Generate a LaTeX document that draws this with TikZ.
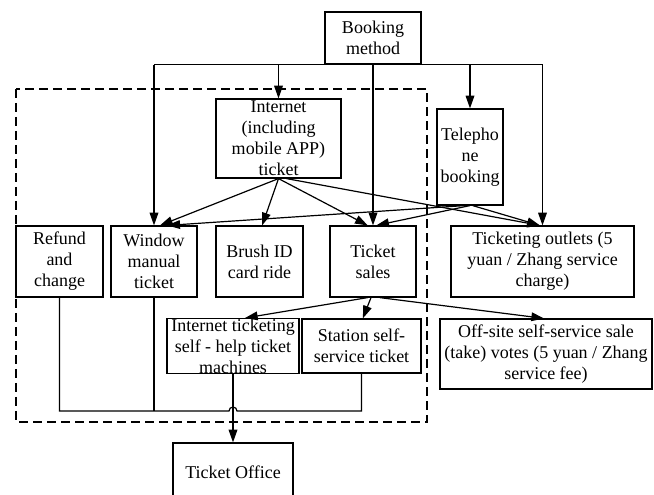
\documentclass[tikz,border=0pt]{standalone}
\usepackage{fontspec}
\setmainfont{Liberation Serif}
\usetikzlibrary{arrows.meta}
\begin{document}
\begin{tikzpicture}[x=0.75pt,y=-0.75pt,
  box/.style 2 args={draw, line width=0.9pt, align=center, inner sep=0pt,
    minimum width=#1*0.75pt, minimum height=#2*0.75pt,
    font=\fontsize{13.5}{15.8}\selectfont},
  conn/.style={line width=0.9pt},
  arr/.style={conn, -{Triangle[length=9.5pt,width=6.5pt]}},
  frame/.style={line width=0.9pt, dash pattern=on 7pt off 3.5pt}]
\useasboundingbox (0,0) rectangle (654,495);

\node[box={96}{52}] (book) at (373,38) {Booking\\method};
\node[box={125}{79}] (inet) at (278.5,138.5) {Internet\\(including\\mobile APP)\\ticket};
\node[box={66}{96}] (tel) at (470,157) {Telepho\\ne\\booking};
\node[box={87}{71}] (refund) at (59.5,261.5) {Refund\\and\\change};
\node[box={86}{71}] (win) at (154,261.5) {Window\\manual\\ticket};
\node[box={87}{71}] (brush) at (259.5,261.5) {Brush ID\\card ride};
\node[box={86}{71}] (sales) at (373,261.5) {Ticket\\sales};
\node[box={183}{71}] (outlets) at (542.5,261.5) {Ticketing outlets (5\\yuan / Zhang service\\charge)};
\node[box={132}{54}] (itm) at (233,346) {Internet ticketing\\self - help ticket\\machines};
\node[box={119}{54}] (station) at (361.5,346) {Station self-\\service ticket};
\node[box={212}{70}] (offsite) at (546,354) {Off-site self-service sale\\(take) votes (5 yuan / Zhang\\service fee)};
\node[box={120}{58}] (office) at (233,472) {Ticket Office};

\draw[frame] (16,89) rectangle (427,422);

% booking method
\draw[conn] (book.south -| win.north) -- (book.south -| outlets.north);
\foreach \t in {win,inet,sales,tel,outlets}
  \draw[arr] (book.south -| \t.north) -- (\t.north);

% internet
\draw[arr] (inet.south) -- ([xshift=4.5pt]win.north);
\draw[arr] (inet.south) -- ([xshift=2pt]brush.north);
\draw[arr] (inet.south) -- ([xshift=-4pt]sales.north);
\draw[arr] ([xshift=6pt]inet.south) -- ([xshift=-2pt]outlets.north);

% telephone
\draw[arr] ([xshift=-4pt]tel.south) -- ([xshift=10pt]win.north);
\draw[arr] (tel.south) -- ([xshift=2.5pt]sales.north);
\draw[arr] ([xshift=2pt]tel.south) -- ([xshift=-2pt]outlets.north);

% ticket sales
\draw[arr] ([xshift=-4pt]sales.south) -- ([xshift=9pt]itm.north);
\draw[arr] ([xshift=-1.5pt]sales.south) -- ([xshift=1pt]station.north);
\draw[arr] ([xshift=5pt]sales.south) -- ([xshift=-1.5pt]offsite.north);

% bottom
\coordinate (hy) at (0,411);
\draw[conn] (refund.south) -- (refund.south |- hy)
  -- ([xshift=-3pt]itm.south |- hy) arc[start angle=180,end angle=0,radius=3pt]
  -- (station.south |- hy) -- (station.south);
\draw[conn] (win.south) -- (win.south |- hy);
\draw[arr] (itm.south) -- (office.north);
\end{tikzpicture}
\end{document}
